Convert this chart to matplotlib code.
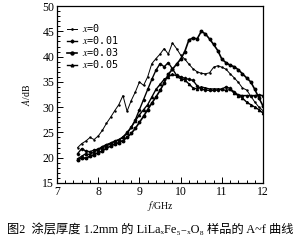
import matplotlib
matplotlib.use('Agg')
import matplotlib.pyplot as plt
from matplotlib.ticker import MultipleLocator

plt.rcParams['font.family'] = ['Liberation Serif', 'DejaVu Serif', 'Noto Sans CJK SC']
plt.rcParams['mathtext.fontset'] = 'stix'

# Frequency grid (GHz) and absorption curves (dB)
freq = [7.5, 7.6, 7.7, 7.8, 7.9, 8.0, 8.1, 8.2, 8.3, 8.4, 8.5, 8.6, 8.7, 8.8, 8.9,
        9.0, 9.1, 9.2, 9.3, 9.4, 9.5, 9.6, 9.7, 9.8, 9.9, 10.0, 10.1, 10.2, 10.3,
        10.4, 10.5, 10.6, 10.7, 10.8, 10.9, 11.0, 11.1, 11.2, 11.3, 11.4, 11.5,
        11.6, 11.7, 11.8, 11.9, 12.0]

a_x000 = [22.0, 22.8, 23.3, 24.0, 23.6, 24.3, 25.4, 26.8, 28.0, 29.3, 30.5, 32.3,
          29.2, 31.3, 33.0, 35.0, 34.3, 36.0, 38.6, 39.6, 40.5, 41.6, 40.5, 42.7,
          41.6, 40.3, 39.5, 38.5, 37.6, 37.0, 36.7, 36.6, 36.8, 37.9, 38.2, 37.9,
          37.5, 36.6, 35.8, 34.9, 33.8, 33.4, 32.2, 31.0, 30.0, 29.3]
a_x001 = [20.8, 21.8, 21.3, 21.2, 21.5, 21.7, 22.2, 22.6, 22.9, 23.3, 23.6, 24.1,
          25.0, 26.0, 27.5, 29.5, 31.5, 33.5, 35.5, 37.3, 38.6, 38.0, 38.8, 37.6,
          36.3, 36.0, 35.7, 35.5, 35.3, 34.2, 33.6, 33.4, 33.3, 33.3, 33.4, 33.6,
          34.0, 33.7, 33.0, 32.4, 32.3, 32.3, 32.3, 32.3, 32.4, 32.3]
a_x003 = [19.5, 20.0, 19.9, 20.3, 20.6, 21.0, 21.3, 21.9, 22.3, 22.7, 23.0, 23.4,
          24.0, 24.8, 25.8, 27.0, 28.2, 29.5, 30.8, 32.0, 33.3, 34.8, 36.5, 37.5,
          38.5, 39.5, 41.0, 43.3, 43.7, 43.5, 45.0, 44.5, 43.5, 42.4, 41.2, 39.5,
          38.8, 38.3, 38.0, 37.4, 36.6, 35.8, 35.0, 33.5, 31.8, 30.2]
a_x005 = [19.8, 20.3, 20.8, 20.6, 21.2, 21.5, 22.0, 22.3, 22.8, 23.2, 23.5, 24.0,
          24.8, 26.0, 27.3, 28.5, 29.5, 30.5, 32.0, 33.5, 34.5, 35.5, 36.0, 36.5,
          36.2, 35.6, 35.4, 34.6, 33.8, 33.6, 34.0, 33.8, 33.6, 33.6, 33.6, 33.5,
          33.3, 33.5, 32.8, 32.3, 31.8, 31.0, 30.5, 30.0, 29.5, 28.8]

labels = ['$x$=0', '$x$=0.01', '$x$=0.03', '$x$=0.05']

fig = plt.figure(figsize=(3.0, 2.43), dpi=100)
ax = fig.add_axes([0.19, 0.247, 0.687, 0.728])

ax.plot(freq, a_x000, color='black', lw=0.7, marker='.', ms=1.5, label=labels[0])
ax.plot(freq, a_x001, color='black', lw=1.0, marker='D', ms=1.3, label=labels[1])
ax.plot(freq, a_x003, color='black', lw=1.2, marker='o', ms=1.8, label=labels[2])
ax.plot(freq, a_x005, color='black', lw=1.0, marker='^', ms=1.6, label=labels[3])

ax.set_xlim(7, 12)
ax.set_ylim(15, 50)
ax.xaxis.set_major_locator(MultipleLocator(1))
ax.xaxis.set_minor_locator(MultipleLocator(0.2))
ax.yaxis.set_major_locator(MultipleLocator(5))
ax.yaxis.set_minor_locator(MultipleLocator(1))
ax.tick_params(which='both', direction='in', top=False, right=False,
               labelsize=8.5, pad=2, width=0.7)
ax.tick_params(which='major', length=4)
ax.tick_params(which='minor', length=2)
for s in ax.spines.values():
    s.set_linewidth(0.9)

ax.set_xlabel('$f$/GHz', fontsize=7, labelpad=1)
ax.set_ylabel('$A$/dB', fontsize=7, labelpad=7)

leg = ax.legend(loc='upper left', bbox_to_anchor=(0.01, 0.955), frameon=False,
                handlelength=1.0, handletextpad=0.5, markerscale=1.2,
                labelspacing=0.0, borderpad=0.3,
                prop={'family': 'DejaVu Sans Mono', 'size': 7.3})

fig.text(0.5, 0.055,
         '图2  涂层厚度 1.2mm 的 LiLaₓFe₅₋ₓO₈ 样品的 A~f 曲线',
         ha='center', va='center', fontsize=8.8)

fig.savefig('out.png', dpi=100)
